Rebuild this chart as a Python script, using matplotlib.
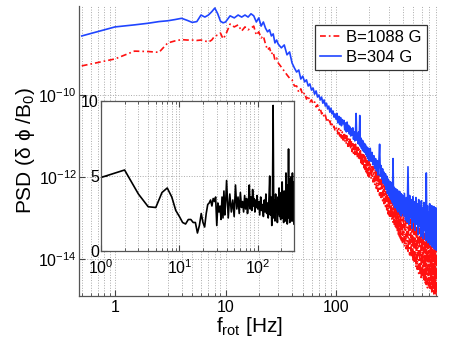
import numpy as np
import matplotlib
matplotlib.use("Agg")
import matplotlib.pyplot as plt
from matplotlib.ticker import LogLocator, NullLocator

plt.rcParams['font.family'] = ['Liberation Sans', 'DejaVu Sans']
plt.rcParams['mathtext.fontset'] = 'custom'
plt.rcParams['mathtext.rm'] = 'Liberation Sans'
plt.rcParams['mathtext.it'] = 'Liberation Sans:italic'
plt.rcParams['mathtext.default'] = 'regular'

# ---------------- data ----------------
freq_hz = [0.5, 1, 1.5, 2, 2.5, 3, 3.5, 4, 4.5, 5, 5.5, 6, 6.5, 7, 7.5, 8, 8.5, 9, 9.5, 10,
           11, 12, 13, 14, 15, 16, 17, 18, 19, 20, 21, 22, 23, 24, 25, 26, 27, 28, 29, 30,
           32, 34, 36, 38, 40, 42, 44, 46, 48, 50, 52, 54, 56, 58, 60, 62, 64, 66, 68, 70,
           72, 74, 76, 78, 80, 82, 84, 86, 88, 90, 92, 94, 96, 98, 100,
           102, 104, 106, 108, 110, 112, 114, 116, 118, 120, 122, 124, 126, 128, 130, 132, 134,
           136, 138, 140, 142, 144, 146, 148, 150, 152, 154, 156, 158, 160, 162, 164, 166, 168,
           170, 172, 174, 176, 178, 180, 182, 184, 186, 188, 190, 192, 194, 196, 198, 200,
           204, 208, 212, 216, 220, 224, 228, 232, 236, 240, 244, 248, 252, 256, 260, 264, 268,
           272, 276, 280, 284, 288, 292, 296, 300, 304, 308, 312, 316, 320, 324, 328, 332, 336,
           340, 344, 348, 352, 356, 360, 364, 368, 372, 376, 380, 384, 388, 392, 396, 400,
           408, 416, 424, 432, 440, 448, 456, 464, 472, 480, 488, 496, 504, 512, 520, 528, 536,
           544, 552, 560, 568, 576, 584, 592, 600, 608, 616, 624, 632, 640, 648, 656, 664, 672,
           680, 688, 696, 704, 712, 720, 728, 736, 744, 752, 760, 768, 776, 784, 792, 800, 808, 816]

# log10 of PSD, B = 304 G (blue, solid)
psd_304_log10 = [
    -8.56, -8.34, -8.29, -8.25, -8.21, -8.19, -8.16, -8.13, -8.18, -8.23,
    -8.21, -8.05, -8.10, -8.05, -7.97, -7.88, -8.02, -8.20, -8.24, -8.22,
    -8.07, -8.12, -8.05, -8.10, -8.05, -8.10, -8.02, -8.07, -8.22, -8.12,
    -8.32, -8.22, -8.37, -8.46, -8.41, -8.56, -8.51, -8.73, -8.66, -8.76,
    -8.85, -8.78, -9.02, -8.95, -9.22, -9.34, -9.44, -9.39, -9.61, -9.54,
    -9.68, -9.63, -9.78, -9.73, -9.88, -9.83, -9.98, -9.90, -10.05, -10.00,
    -10.12, -10.05, -10.20, -10.12, -10.27, -10.20, -10.34, -10.27, -10.42, -10.32,
    -10.46, -10.39, -10.54, -10.46, -10.59,
    -10.45, -10.68, -10.52, -10.72, -10.55, -10.75, -10.60, -10.70, -10.62, -10.85,
    -10.68, -10.90, -10.66, -10.88, -10.74, -10.95, -10.78, -11.00, -10.82, -10.98,
    -10.80, -11.08, -10.90, -11.12, -10.92, -10.45, -11.10, -10.95, -11.18, -10.90,
    -11.20, -10.50, -11.25, -11.05, -11.30, -11.10, -11.35, -11.12, -11.38, -11.18,
    -11.40, -11.20, -11.45, -11.25, -11.50, -11.28, -11.55, -11.30, -11.60, -11.35,
    -11.30, -11.62, -11.40, -11.70, -11.48, -11.78, -11.55, -11.85, -11.60, -11.95,
    -11.65, -11.20, -11.98, -11.72, -12.05, -11.80, -12.15, -11.88, -12.20, -11.92,
    -12.30, -11.98, -12.40, -12.05, -12.45, -12.10, -12.50, -12.12, -12.55, -12.18,
    -12.62, -11.55, -12.68, -12.25, -12.75, -12.28, -12.70, -12.30, -12.80, -12.32,
    -12.85, -12.38, -12.78, -12.35, -12.90, -12.40, -12.95, -12.42, -12.88, -12.45,
    -12.95, -12.40, -13.05, -12.50, -13.10, -11.75, -13.15, -12.45, -13.00, -12.55,
    -13.25, -12.48, -13.10, -12.60, -13.30, -12.50, -13.15, -12.65, -13.40, -12.55,
    -13.20, -12.70, -13.45, -12.58, -13.25, -12.75, -13.50, -12.62, -13.30, -12.80,
    -13.55, -11.90, -13.35, -12.70, -13.60, -12.85, -13.40, -12.65, -13.65, -12.90,
    -13.45, -12.70, -13.70, -12.95, -13.50, -12.72, -13.75, -13.00, -13.55, -12.75,
    -13.78, -13.10]

# log10 of PSD, B = 1088 G (red, dash-dot)
psd_1088_log10 = [
    -9.29, -9.12, -8.93, -8.94, -8.96, -8.73, -8.68, -8.65, -8.66, -8.66,
    -8.67, -8.66, -8.68, -8.71, -8.66, -8.56, -8.54, -8.49, -8.63, -8.54,
    -8.27, -8.34, -8.29, -8.44, -8.34, -8.41, -8.37, -8.32, -8.54, -8.46,
    -8.61, -8.56, -8.76, -8.90, -8.85, -9.00, -8.95, -9.15, -9.10, -9.22,
    -9.32, -9.42, -9.51, -9.59, -9.63, -9.78, -9.78, -9.93, -9.85, -10.00,
    -9.95, -10.10, -10.02, -10.17, -10.12, -10.22, -10.17, -10.29, -10.24, -10.37,
    -10.32, -10.46, -10.42, -10.54, -10.49, -10.61, -10.56, -10.68, -10.63, -10.76,
    -10.71, -10.80, -10.76, -10.88, -10.83,
    -10.78, -10.95, -10.82, -11.00, -10.86, -11.05, -10.90, -11.10, -10.92, -11.15,
    -10.98, -11.20, -11.00, -11.25, -11.05, -11.28, -11.08, -11.32, -11.12, -11.38,
    -11.15, -11.42, -11.18, -11.45, -11.20, -11.48, -11.25, -11.52, -11.28, -11.55,
    -11.32, -11.60, -11.36, -11.65, -11.40, -11.68, -11.42, -11.72, -11.46, -11.78,
    -11.50, -11.82, -11.52, -11.88, -11.58, -11.92, -11.60, -11.98, -11.62, -12.02,
    -11.65, -12.05, -11.70, -12.12, -11.75, -12.20, -11.80, -12.28, -11.85, -12.35,
    -11.90, -12.45, -11.95, -12.50, -12.00, -12.58, -12.05, -12.65, -12.10, -12.72,
    -12.15, -12.80, -12.20, -12.90, -12.25, -12.95, -12.30, -13.00, -12.35, -13.05,
    -12.40, -13.10, -12.42, -13.15, -12.45, -13.20, -12.50, -13.28, -12.55, -13.35,
    -12.60, -13.40, -12.62, -13.45, -12.65, -13.50, -12.70, -13.55, -12.72, -13.62,
    -12.78, -13.70, -12.85, -13.75, -12.90, -13.85, -12.95, -13.90, -13.00, -13.95,
    -13.05, -14.05, -13.10, -14.10, -13.12, -14.20, -13.18, -14.25, -13.22, -14.35,
    -13.25, -14.40, -13.30, -14.50, -13.32, -14.45, -13.35, -14.55, -13.38, -14.60,
    -13.40, -14.62, -13.42, -14.70, -13.45, -14.65, -13.48, -14.75, -13.50, -14.72,
    -13.55, -14.80, -13.58, -14.78, -13.60, -14.85, -13.62, -14.82, -13.65, -14.88,
    -13.70, -14.95]

# inset: ratio spectrum (linear scale)
inset_freq_hz = [1, 2, 3, 4, 5, 6, 7, 8, 9, 10, 11, 12, 13, 14, 15, 16, 17, 18, 19, 20,
                 21, 22, 23, 24, 25, 26, 27, 28, 29, 30, 31, 32, 33, 34, 35, 36, 37, 38, 39, 40,
                 42, 44, 46, 48, 50, 52, 54, 56, 58, 60, 62, 64, 66, 68, 70, 72, 74, 76, 78, 80,
                 82, 84, 86, 88, 90, 92, 94, 96, 98, 100,
                 103, 106, 109, 112, 115, 118, 121, 124, 127, 130, 133, 136, 139, 142, 145, 148,
                 151, 154, 157, 160, 163, 166, 169, 172, 175, 178, 181, 184, 187, 190, 193, 196,
                 199, 202, 205, 208, 211, 214, 217, 220, 223, 226, 229, 232, 235, 238, 241, 244,
                 247, 250, 253, 256, 259, 262, 265, 268, 271, 274, 277, 280, 283, 286, 289]
inset_values = [4.9, 5.4, 3.8, 2.95, 2.9, 3.9, 4.2, 3.6, 2.7, 2.3, 1.9, 1.8, 2.1, 2.1, 1.9, 1.9, 1.2, 1.7, 2.5, 1.9,
                1.6, 2.5, 3.1, 3.2, 3.4, 3.0, 3.5, 3.3, 3.6, 1.7, 3.2, 2.6, 3.0, 2.1, 3.6, 2.2, 4.0, 2.4, 3.3, 4.7,
                2.2, 3.8, 2.6, 3.4, 2.3, 4.4, 2.8, 3.6, 2.5, 3.9, 2.9, 3.3, 2.6, 3.7, 2.8, 3.5, 2.5, 3.2, 4.4, 2.8,
                3.6, 2.7, 4.1, 3.0, 3.5, 2.6, 3.4, 2.9, 3.7, 2.8,
                3.3, 2.4, 3.6, 2.7, 3.1, 2.3, 3.4, 2.6, 3.8, 2.5, 3.2, 2.2, 3.5, 5.0, 2.4, 3.6,
                1.7, 3.0, 9.7, 2.2, 3.4, 2.0, 3.8, 2.6, 3.3, 1.9, 3.6, 2.5, 4.2, 2.3, 3.5, 2.1,
                3.9, 2.6, 4.6, 2.2, 3.4, 1.9, 4.0, 2.5, 3.6, 2.0, 5.2, 2.4, 4.4, 1.8, 3.3, 2.6,
                6.8, 2.2, 4.8, 1.9, 3.7, 2.3, 4.9, 2.0, 3.5, 2.4, 5.2, 2.0, 4.6, 2.3, 1.8]

series_labels = ['B=1088 G', 'B=304 G']

for a, b in [(freq_hz, psd_304_log10), (freq_hz, psd_1088_log10), (inset_freq_hz, inset_values)]:
    if len(a) != len(b):
        raise ValueError(f"length mismatch {len(a)} vs {len(b)}")

# ---------------- figure ----------------
W, H = 463, 356
fig = plt.figure(figsize=(W / 100, H / 100), dpi=100)
fig.patch.set_facecolor('white')

ax = fig.add_axes([79 / W, (H - 296) / H, 358 / W, 290 / H])
f = np.array(freq_hz)
ax.plot(f, 10.0 ** np.array(psd_1088_log10), color='#ff1010', lw=1.2,
        dashes=(3.5, 1.8, 1.0, 1.8), label=series_labels[0])
ax.plot(f, 10.0 ** np.array(psd_304_log10), color='#2045ff', lw=1.2,
        label=series_labels[1])

ax.set_xscale('log')
ax.set_yscale('log')
ax.set_xlim(0.472, 820)
ax.set_ylim(10 ** -14.90, 10 ** -7.83)
ax.set_xticks([1, 10, 100])
ax.set_xticklabels(['1', '10', '100'])
ax.xaxis.set_minor_locator(LogLocator(base=10, subs=np.arange(2, 10), numticks=20))
ax.set_yticks([1e-14, 1e-12, 1e-10])
ax.yaxis.set_minor_locator(NullLocator())
ax.tick_params(which='both', direction='in', top=False, right=False,
               labelsize=11.5, color='#444444')
ax.tick_params(axis='x', which='major', length=4, pad=3)
ax.tick_params(axis='x', which='minor', length=2.5)
ax.tick_params(axis='y', which='major', length=4, pad=1.5)
for side in ['top', 'right']:
    ax.spines[side].set_visible(False)
for side in ['left', 'bottom']:
    ax.spines[side].set_color('#555555')
    ax.spines[side].set_linewidth(0.9)
ax.grid(which='major', axis='both', ls=':', color='#aaaaaa', lw=0.7)
ax.grid(which='minor', axis='x', ls=':', color='#aaaaaa', lw=0.7)

ax.set_xlabel('f$_{rot}$ [Hz]', fontsize=15, labelpad=0)
ax.xaxis.set_label_coords(0.476, -0.066, transform=ax.transAxes)
ax.xaxis.label.set_va('top')
ax.set_ylabel('PSD (δ ϕ /B$_0$)', fontsize=15, labelpad=1)

leg = ax.legend(loc='upper right', bbox_to_anchor=(0.972, 0.934), borderaxespad=0,
                fontsize=12, fancybox=False, framealpha=1, edgecolor='#333333',
                handlelength=1.3, handletextpad=0.3, labelspacing=0.3, borderpad=0.3)
leg.get_frame().set_linewidth(0.9)

# ---------------- inset ----------------
axi = fig.add_axes([101 / W, (H - 251) / H, 193 / W, 150 / H])
axi.set_facecolor('white')
axi.plot(inset_freq_hz, inset_values, color='black', lw=1.2)
axi.set_xscale('log')
axi.set_xlim(1, 290)
axi.set_ylim(0, 10)
axi.set_yticks([0, 5, 10])
axi.set_xticks([1, 10, 100])
axi.set_xticklabels(['$10^0$', '$10^1$', '$10^2$'])
axi.xaxis.set_minor_locator(LogLocator(base=10, subs=np.arange(2, 10), numticks=20))
axi.tick_params(which='both', direction='in', top=True, right=True,
                labelsize=11.5, color='#444444')
axi.tick_params(axis='x', which='major', length=4, pad=5.5)
axi.tick_params(axis='x', which='minor', length=2.5)
axi.tick_params(axis='y', which='major', length=4, pad=1.5)
for side in axi.spines:
    axi.spines[side].set_color('#555555')
    axi.spines[side].set_linewidth(0.9)
axi.grid(which='major', axis='both', ls=':', color='#aaaaaa', lw=0.7)
axi.grid(which='minor', axis='x', ls=':', color='#aaaaaa', lw=0.7)

fig.savefig('out.png', dpi=100)
